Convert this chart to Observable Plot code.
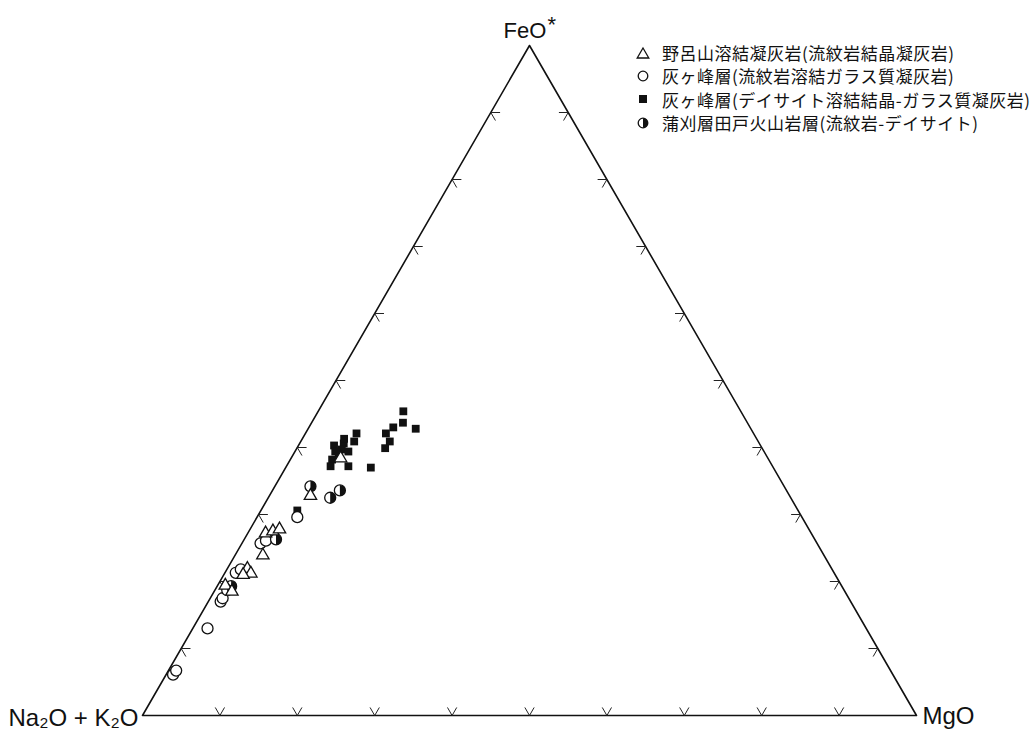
<!DOCTYPE html>
<html><head><meta charset="utf-8">
<script src="https://cdn.jsdelivr.net/npm/d3@7"></script>
<script src="https://cdn.jsdelivr.net/npm/@observablehq/plot@0.6"></script>
<style>
body{margin:0;background:#fff;}
#wrap{position:relative;width:1035px;height:730px;}
#legend{position:absolute;left:636px;top:41px;font-family:"Noto Sans CJK JP",sans-serif;font-size:17px;line-height:23.4px;color:#111;letter-spacing:0.5px;}
.row{display:flex;align-items:center;white-space:nowrap;height:23.4px}
.row svg{margin-right:12px;flex:none}
</style></head><body><div id="wrap"><div id="legend"></div></div>
<script>
// Series names (legend)
const seriesNames = [
  "野呂山溶結凝灰岩(流紋岩結晶凝灰岩)",
  "灰ヶ峰層(流紋岩溶結ガラス質凝灰岩)",
  "灰ヶ峰層(デイサイト溶結結晶-ガラス質凝灰岩)",
  "蒲刈層田戸火山岩層(流紋岩-デイサイト)"
];
// Corner labels
const cornerLabels = ["Na₂O + K₂O", "FeO", "MgO"];

// Values in wt% (Na2O+K2O = 100 - FeO* - MgO)
const noroFeO  = [23.9, 27.2, 27.5, 27.8, 21.9, 21.2, 21.0, 19.4, 32.8, 38.4, 18.5];
const noroMgO  = [ 3.6,  2.3,  3.1,  3.8,  2.6,  3.4,  2.5,  1.0,  5.3,  6.4,  2.3];
const glassFeO = [ 6.1,  6.7, 13.0, 17.0, 17.5, 21.3, 25.7, 26.1, 29.6, 21.8];
const glassMgO = [ 0.9,  1.0,  1.9,  1.6,  1.6,  1.4,  2.4,  2.9,  5.2,  1.8];
const daciteFeO = [45.4, 43.7, 42.8, 43.0, 42.1, 40.9, 39.9, 42.1, 40.9, 40.6, 40.3, 39.7, 39.4, 39.4, 38.2, 37.2, 37.2, 37.0, 30.6, 41.3, 38.7];
const daciteMgO = [11.0, 11.8, 13.9, 10.9, 10.4, 11.5, 11.4,  6.6,  6.9,  5.7,  4.6,  5.9,  5.2,  6.9,  5.4,  5.7,  8.0, 11.0,  4.7,  5.4,  6.0];
const tadoFeO  = [34.2, 33.6, 32.5, 26.3, 19.3, 18.7];
const tadoMgO  = [ 4.6,  8.7,  8.0,  4.1,  1.8,  1.6];

// Tick values (%) along every edge
const tickValues = [10, 20, 30, 40, 50, 60, 70, 80, 90];

const H = Math.sqrt(3) / 2;
// ternary -> cartesian (left = alkali, top = FeO*, right = MgO)
function tern(feo, mgo) {
  const alk = 100 - feo - mgo;
  const s = alk + feo + mgo;
  const f = feo / s, m = mgo / s;
  return {x: m + f / 2, y: f * H};
}
function rows(feoArr, mgoArr) { return feoArr.map((f, i) => tern(f, mgoArr[i])); }

const noro = rows(noroFeO, noroMgO);
const glass = rows(glassFeO, glassMgO);
const dacite = rows(daciteFeO, daciteMgO);
const tado = rows(tadoFeO, tadoMgO);

const corners = [tern(0, 0), tern(100, 0), tern(0, 100)];
const outline = [...corners, corners[0]];

// tick chevrons
const L = 0.012;
const dir = a => [Math.cos(a * Math.PI / 180), Math.sin(a * Math.PI / 180)];
const arms = [];
for (const v of tickValues) {
  const t = v / 100;
  const edges = [
    {p: {x: t, y: 0}, a: [60, 120]},            // bottom: "v"
    {p: {x: t / 2, y: t * H}, a: [0, -60]},     // left: "<"
    {p: {x: 1 - t / 2, y: t * H}, a: [180, 240]} // right: ">"
  ];
  for (const e of edges) for (const ang of e.a) {
    const [dx, dy] = dir(ang);
    arms.push({x1: e.p.x, y1: e.p.y, x2: e.p.x + dx * L, y2: e.p.y + dy * L});
  }
}

const halfRight = {draw(ctx, size) {
  const r = Math.sqrt(size / Math.PI);
  ctx.moveTo(0, -r);
  ctx.arc(0, 0, r, -Math.PI / 2, Math.PI / 2);
  ctx.closePath();
}};

const chart = Plot.plot({
  width: 1035, height: 730,
  marginLeft: 142, marginRight: 119, marginTop: 45, marginBottom: 15,
  x: {domain: [0, 1], axis: null},
  y: {domain: [0, H], axis: null},
  style: {background: "#fff", fontFamily: "'Liberation Sans', Arial, sans-serif"},
  marks: [
    Plot.line(outline, {x: "x", y: "y", stroke: "#111", strokeWidth: 1.6}),
    Plot.link(arms, {x1: "x1", y1: "y1", x2: "x2", y2: "y2", stroke: "#222", strokeWidth: 1}),
    Plot.dot(dacite, {x: "x", y: "y", symbol: "square", r: 4.4, fill: "#111", stroke: "none"}),
    Plot.dot(glass, {x: "x", y: "y", symbol: "circle", r: 5.5, fill: "white", stroke: "#111", strokeWidth: 1.3}),
    Plot.dot(tado, {x: "x", y: "y", symbol: "circle", r: 5.5, fill: "white", stroke: "#111", strokeWidth: 1.3}),
    Plot.dot(tado, {x: "x", y: "y", symbol: halfRight, r: 5.5, fill: "#111", stroke: "none"}),
    Plot.dot(noro, {x: "x", y: "y", symbol: "triangle", r: 4.6, fill: "white", stroke: "#111", strokeWidth: 1.3}),
    Plot.text([corners[0]], {x: "x", y: "y", text: () => cornerLabels[0], textAnchor: "end", lineAnchor: "bottom", dx: -4, dy: 10, fontSize: 24, fill: "#111"}),
    Plot.text([corners[2]], {x: "x", y: "y", text: () => cornerLabels[2], textAnchor: "start", lineAnchor: "bottom", dx: 6, dy: 8, fontSize: 24, fill: "#111"}),
    Plot.text([corners[1]], {x: "x", y: "y", text: () => cornerLabels[1], textAnchor: "start", lineAnchor: "bottom", dx: -26, dy: -8, fontSize: 22, fill: "#111"}),
    Plot.text([corners[1]], {x: "x", y: "y", text: () => "*", textAnchor: "start", lineAnchor: "bottom", dx: 18, dy: -14, fontSize: 22, fill: "#111"})
  ]
});
const wrap = document.getElementById("wrap");
wrap.insertBefore(chart, wrap.firstChild);

// legend
const symSvg = [
  `<polygon points="7,2 12.8,12 1.2,12" fill="white" stroke="#111" stroke-width="1.3"/>`,
  `<circle cx="7" cy="7" r="4.8" fill="white" stroke="#111" stroke-width="1.3"/>`,
  `<rect x="3" y="3" width="8" height="8" fill="#111"/>`,
  `<circle cx="7" cy="7" r="4.8" fill="white" stroke="#111" stroke-width="1.3"/><path d="M7,2.2 A4.8,4.8 0 0 1 7,11.8 Z" fill="#111"/>`
];
const legend = document.getElementById("legend");
seriesNames.forEach((name, i) => {
  const row = document.createElement("div");
  row.className = "row";
  row.innerHTML = `<svg width="14" height="14" viewBox="0 0 14 14">${symSvg[i]}</svg><span>${name}</span>`;
  legend.appendChild(row);
});
</script></body></html>
